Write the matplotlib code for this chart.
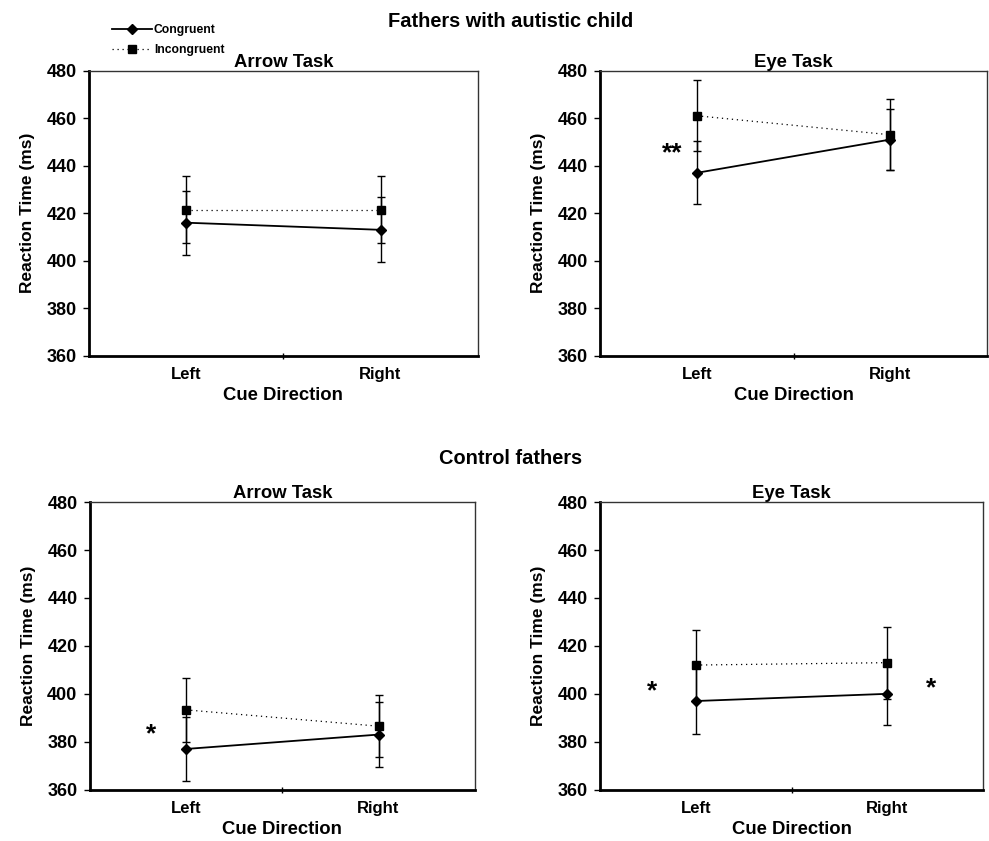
"""
Cueing task reaction times: fathers with autistic child vs control fathers
"""
import matplotlib
matplotlib.use("Agg")
import matplotlib.pyplot as plt
from matplotlib.lines import Line2D

plt.rcParams["font.family"] = ["Liberation Sans", "DejaVu Sans"]
plt.rcParams["font.weight"] = "bold"

cue_labels = ["Left", "Right"]

# fathers with autistic child
arrow_aut_cong = [416, 413]
arrow_aut_cong_err = [13.5, 13.7]
arrow_aut_incong = [421.5, 421.5]
arrow_aut_incong_err = [14.2, 14.0]
eye_aut_cong = [437, 451]
eye_aut_cong_err = [13.3, 13.0]
eye_aut_incong = [461, 453]
eye_aut_incong_err = [15.0, 15.0]

# control fathers
arrow_ctl_cong = [377, 383]
arrow_ctl_cong_err = [13.5, 13.5]
arrow_ctl_incong = [393.3, 386.5]
arrow_ctl_incong_err = [13.2, 13.0]
eye_ctl_cong = [397, 400]
eye_ctl_cong_err = [13.7, 13.0]
eye_ctl_incong = [412, 413]
eye_ctl_incong_err = [14.7, 15.0]

# significance markers: (x, y, text)
stars_aut_eye = [(-0.13, 445, "**")]
stars_ctl_arrow = [(-0.18, 383, "*")]
stars_ctl_eye = [(-0.23, 401, "*"), (1.23, 402.5, "*")]


def draw_panel(ax, cong, cong_err, incong, incong_err, title, stars):
    x = list(range(len(cue_labels)))
    ax.errorbar(x, incong, yerr=incong_err, color="black", ls=(0, (1, 3)),
                lw=0.9, marker="s", ms=6, capsize=2.8, elinewidth=1.0,
                capthick=1.0, zorder=3)
    ax.errorbar(x, cong, yerr=cong_err, color="black", ls="-", lw=1.3,
                marker="D", ms=5.5, capsize=2.8, elinewidth=1.0,
                capthick=1.0, zorder=4)
    for sx, sy, s in stars:
        ax.text(sx, sy, s, fontsize=19, fontweight="bold", ha="center", va="center")

    ax.set_xlim(-0.5, 1.5)
    ax.set_ylim(360, 480)
    ax.set_yticks(range(360, 481, 20))
    ax.set_xticks(x)
    ax.set_xticklabels(cue_labels)
    ax.set_xticks([0.5], minor=True)
    ax.tick_params(axis="x", which="major", length=0, pad=8, labelsize=12)
    ax.tick_params(axis="x", which="minor", length=5, direction="inout", width=1)
    ax.tick_params(axis="y", length=4, direction="out", width=1, pad=5, labelsize=13)
    for side in ("left", "bottom"):
        ax.spines[side].set_linewidth(2.0)
        ax.spines[side].set_color("black")
    for side in ("top", "right"):
        ax.spines[side].set_linewidth(1.0)
        ax.spines[side].set_color("#333333")
    ax.set_title(title, fontsize=13.3, fontweight="bold", pad=1.5)
    ax.set_xlabel("Cue Direction", fontsize=13.3, fontweight="bold", labelpad=4)
    ax.set_ylabel("Reaction Time (ms)", fontsize=12.5, fontweight="bold", labelpad=8)


fig = plt.figure(figsize=(9.89, 8.41), dpi=100)
ax1 = fig.add_axes([0.090, 0.577, 0.393, 0.339])
ax2 = fig.add_axes([0.607, 0.577, 0.391, 0.339])
ax3 = fig.add_axes([0.091, 0.061, 0.389, 0.342])
ax4 = fig.add_axes([0.607, 0.061, 0.387, 0.342])

draw_panel(ax1, arrow_aut_cong, arrow_aut_cong_err, arrow_aut_incong,
           arrow_aut_incong_err, "Arrow Task", [])
draw_panel(ax2, eye_aut_cong, eye_aut_cong_err, eye_aut_incong,
           eye_aut_incong_err, "Eye Task", stars_aut_eye)
draw_panel(ax3, arrow_ctl_cong, arrow_ctl_cong_err, arrow_ctl_incong,
           arrow_ctl_incong_err, "Arrow Task", stars_ctl_arrow)
draw_panel(ax4, eye_ctl_cong, eye_ctl_cong_err, eye_ctl_incong,
           eye_ctl_incong_err, "Eye Task", stars_ctl_eye)

fig.text(0.516, 0.974, "Fathers with autistic child", fontsize=14.4,
         fontweight="bold", ha="center", va="center")
fig.text(0.516, 0.455, "Control fathers", fontsize=14.4,
         fontweight="bold", ha="center", va="center")

handles = [
    Line2D([], [], color="black", ls="-", lw=1.3, marker="D", ms=5),
    Line2D([], [], color="black", ls=(0, (1, 3)), lw=0.9, marker="s", ms=5.5),
]
fig.legend(handles, ["Congruent", "Incongruent"], loc="upper left",
           bbox_to_anchor=(0.105, 0.981), frameon=False, fontsize=8.7,
           handlelength=3.3, handletextpad=0.15, labelspacing=0.66,
           borderpad=0.2)

fig.savefig("out.png", dpi=100)
